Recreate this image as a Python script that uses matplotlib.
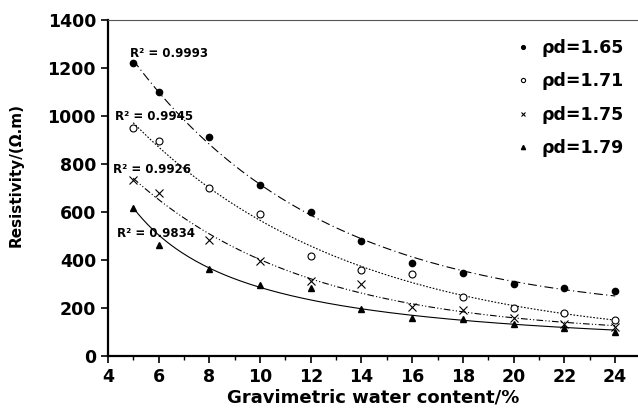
import numpy as np
import matplotlib
matplotlib.use("Agg")
import matplotlib.pyplot as plt
from matplotlib.ticker import MultipleLocator

plt.rcParams["font.family"] = ["DejaVu Sans"]
plt.rcParams["font.weight"] = "bold"

water = [5, 6, 8, 10, 12, 14, 16, 18, 20, 22, 24]
rho_165 = [1220, 1100, 912, 712, 599, 481, 386, 346, 302, 283, 273]
rho_171 = [951, 897, 699, 592, 419, 359, 340, 248, 199, 181, 152]
rho_175 = [734, 678, 483, 396, 312, 300, 205, 194, 160, 135, 121]
rho_179 = [617, 461, 362, 295, 283, 196, 160, 156, 135, 116, 100]

labels = ["ρd=1.65", "ρd=1.71", "ρd=1.75", "ρd=1.79"]
r2_text = ["R² = 0.9993", "R² = 0.9945", "R² = 0.9926", "R² = 0.9834"]
r2_pos = [(4.87, 1262), (4.28, 999), (4.2, 777), (4.35, 510)]


def expdec_fit(x, y, xs):
    # y = y0 + A*exp(-x/t), search t, solve y0 and A by least squares
    best = None
    for t in np.linspace(1, 40, 400):
        M = np.column_stack([np.ones_like(x), np.exp(-x / t)])
        coef, *_ = np.linalg.lstsq(M, y, rcond=None)
        err = np.sum((M @ coef - y) ** 2)
        if best is None or err < best[0]:
            best = (err, t, coef)
    _, t, coef = best
    return coef[0] + coef[1] * np.exp(-xs / t)


fig = plt.figure(figsize=(6.38, 4.17), dpi=100)
ax = fig.add_axes([0.169, 0.146, 0.831, 0.806])

x = np.array(water, dtype=float)
xs = np.linspace(5, 24, 200)

series = [rho_165, rho_171, rho_175, rho_179]
markers = [dict(marker="o", mfc="black", mec="black", ms=4.5),
           dict(marker="o", mfc="white", mec="black", ms=5, mew=0.8),
           dict(marker="x", color="black", ms=5.5, mew=0.8),
           dict(marker="^", color="black", ms=5)]
styles = [(0, (8, 3, 1, 3)), (0, (1.5, 1.5)), (0, (6, 2, 1, 2, 1, 2)), "-"]

for i, ys in enumerate(series):
    y = np.array(ys, dtype=float)
    if i < 3:
        fit = expdec_fit(x, y, xs)
    else:
        c = np.polyfit(np.log(x), np.log(y), 1)
        fit = np.exp(np.polyval(c, np.log(xs)))
    ax.plot(xs, fit, color="black", lw=0.8, ls=styles[i])
    ax.plot(x, y, ls="none", label=labels[i], **markers[i])
    ax.text(r2_pos[i][0], r2_pos[i][1], r2_text[i], fontsize=8.5,
            fontweight="bold", va="center")

ax.set_xlim(4, 24.9)
ax.set_ylim(0, 1400)
ax.xaxis.set_major_locator(MultipleLocator(2))
ax.xaxis.set_minor_locator(MultipleLocator(1))
ax.yaxis.set_major_locator(MultipleLocator(200))
ax.tick_params(axis="both", which="major", direction="out", length=5,
               width=1.2, labelsize=12.5)
ax.tick_params(axis="x", which="minor", direction="out", length=3, width=1)
for lab in ax.get_xticklabels() + ax.get_yticklabels():
    lab.set_fontweight("bold")

ax.spines["right"].set_visible(False)
ax.spines["left"].set_linewidth(1.6)
ax.spines["bottom"].set_linewidth(1.6)
ax.spines["top"].set_linewidth(0.8)
ax.spines["top"].set_color("#555555")

ax.set_xlabel("Gravimetric water content/%", fontsize=13, fontweight="bold",
              labelpad=2)
ax.set_ylabel("Resistivity/(Ω.m)", fontsize=11, fontweight="bold")
ax.yaxis.set_label_coords(-0.158, 0.54)

leg = ax.legend(loc="upper right", bbox_to_anchor=(1.01, 1.0), frameon=False,
                borderaxespad=0.7, handletextpad=0.1, markerscale=0.6,
                labelspacing=0.88, prop={"weight": "bold", "size": 12.5})

fig.savefig("out.png", dpi=100)
